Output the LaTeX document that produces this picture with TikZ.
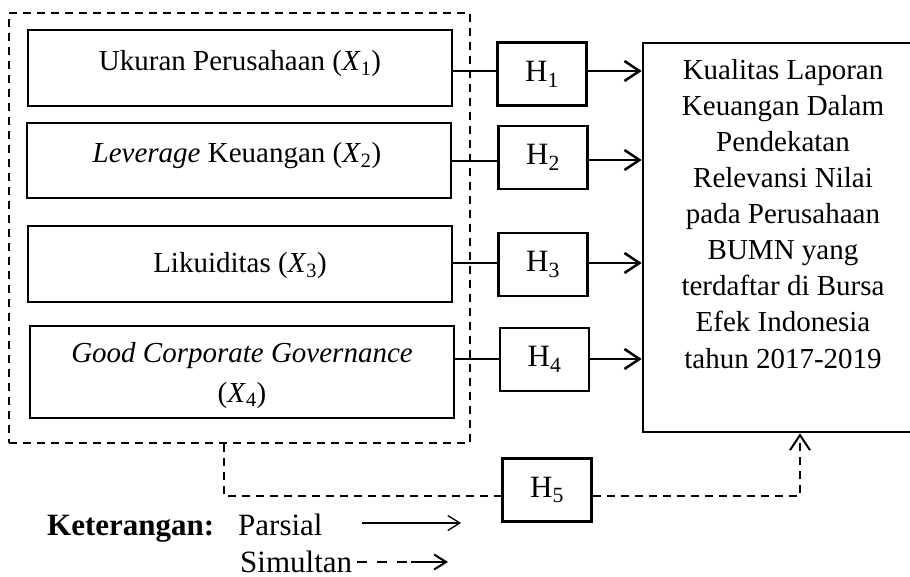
\documentclass[tikz,border=0pt]{standalone}
\usepackage{fontspec}
\setmainfont{Liberation Serif}
\usetikzlibrary{arrows.meta}
\newcommand{\xv}[1]{\textit{X}\textsubscript{#1}}
\newcommand{\hv}[1]{H\textsubscript{#1}}
\begin{document}
\begin{tikzpicture}[x=1pt,y=-1pt,
  bx/.style={draw,line width=2.6pt,minimum width=424pt,inner sep=0pt},
  hbox/.style={draw,line width=2.2pt,minimum width=89pt,minimum height=63pt,inner sep=0pt,font=\fontsize{31}{36}\selectfont},
  tgtbox/.style={draw,line width=2.6pt,minimum width=280pt,minimum height=389pt,inner sep=0pt},
  grpbox/.style={draw,line width=2pt,dash pattern=on 8pt off 6pt,minimum width=461pt,minimum height=430pt,inner sep=0pt},
  txt/.style={font=\fontsize{29}{36.1}\selectfont,anchor=base,inner sep=0pt},
  legtxt/.style={font=\fontsize{31}{39}\selectfont,anchor=base west,inner sep=0pt},
  thinln/.style={line width=1.2pt},
  parr/.style={line width=2.5pt,-{Straight Barb[length=15pt,width=20pt]}},
  dsh/.style={line width=2pt,dash pattern=on 8pt off 6pt},
  dsharr/.style={dsh,-{Straight Barb[length=15pt,width=20pt]}},
  legarr/.style={line width=1.3pt,-{Straight Barb[length=12pt,width=15pt]}},
  legdarr/.style={line width=2pt,dash pattern=on 10pt off 10pt on 10pt off 10pt on 10pt off 4pt on 80pt off 1pt,-{Straight Barb[length=12pt,width=15pt]}}
]
\fill[white] (0,0) rectangle (910,577);
\useasboundingbox (0,0) rectangle (910,577);
\clip (0,0) rectangle (910,577);

% dashed group
\node[grpbox] (grp) at (239.5,228) {};

% variable boxes
\node[bx,minimum height=76pt] (b1) at (240,68) {};
\node[bx,minimum height=75pt] (b2) at (239,160.5) {};
\node[bx,minimum height=76pt] (b3) at (240,264) {};
\node[bx,minimum height=92pt] (b4) at (242,372) {};

\node[txt] (t1) at (240,71) {Ukuran Perusahaan (\xv{1})};
\node[txt] (t2) at (237,163) {\textit{Leverage} Keuangan (\xv{2})};
\node[txt] (t3) at (240,273) {Likuiditas (\xv{3})};
\node[txt,align=center,font=\fontsize{29}{40}\selectfont] (t4) at (242,402) {\textit{Good Corporate Governance}\\(\xv{4})};

% hypothesis boxes
\node[hbox] (h1) at (542,74) {\hv{1}};
\node[hbox] (h2) at (543,157.5) {\hv{2}};
\node[hbox] (h3) at (543,264.5) {\hv{3}};
\node[hbox] (h4) at (544.5,359.5) {\hv{4}};
\node[hbox] (h5) at (547,490) {\hv{5}};

% target
\node[tgtbox] (tgt) at (783,237.5) {};
\node[txt,align=center] (tt) at (783,368) {Kualitas Laporan\\Keuangan Dalam\\Pendekatan\\Relevansi Nilai\\pada Perusahaan\\BUMN yang\\terdaftar di Bursa\\Efek Indonesia\\tahun 2017-2019};

% partial connectors
\draw[thinln] (b1.east |- 0,71) -- (h1.west |- 0,71);
\draw[thinln] (b2.east |- 0,161) -- (h2.west |- 0,161);
\draw[thinln] (b3.east |- 0,263) -- (h3.west |- 0,263);
\draw[thinln] (b4.east |- 0,359) -- (h4.west |- 0,359);
\draw[parr] (h1.east |- 0,71) -- (tgt.west |- 0,71);
\draw[parr] (h2.east |- 0,160) -- (tgt.west |- 0,160);
\draw[parr] (h3.east |- 0,263) -- (tgt.west |- 0,263);
\draw[parr] (h4.east |- 0,359) -- (tgt.west |- 0,359);

% simultaneous connector
\draw[dsh] (grp.south -| 224,0) |- (h5.west |- 0,496);
\draw[dsharr] (h5.east |- 0,496) -| (tgt.south -| 800,0);

% legend
\node[legtxt,font=\fontsize{31}{39}\selectfont\bfseries] (ket) at (47,535) {Keterangan:};
\node[legtxt] (lp) at (238,535) {Parsial};
\node[legtxt] (ls) at (240,572) {Simultan};
\coordinate (p1) at (362,523);
\coordinate (p2) at (461,523);
\coordinate (s1) at (357,562);
\coordinate (s2) at (448,562);
\draw[legarr] (p1) -- (p2);
\draw[legdarr] (s1) -- (s2);
\end{tikzpicture}
\end{document}
